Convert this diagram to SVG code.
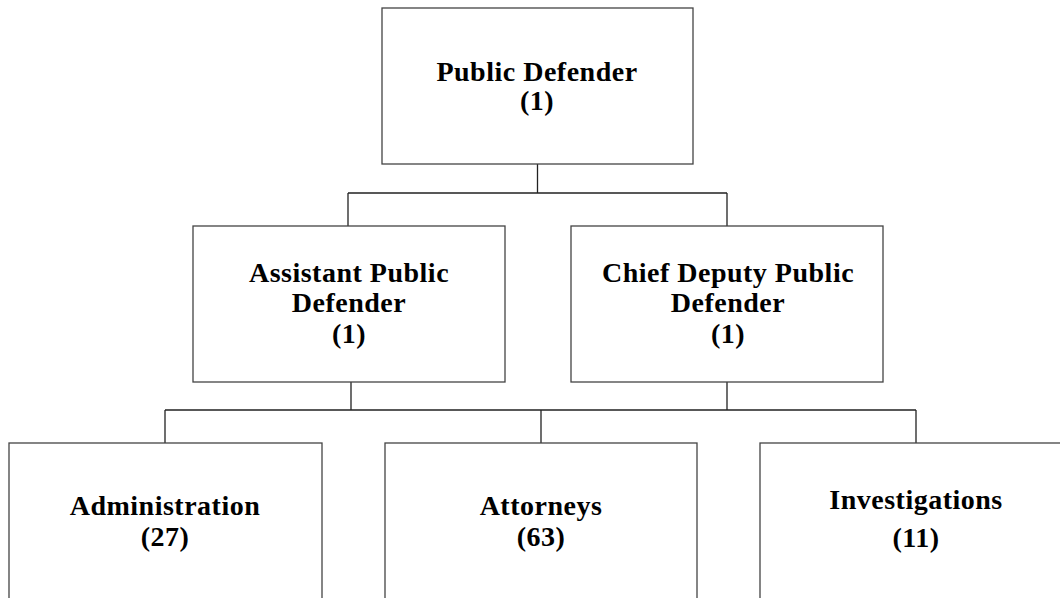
<svg xmlns="http://www.w3.org/2000/svg" width="1060" height="598" viewBox="0 0 1060 598">
<style>
.box{fill:#fff;stroke:#444;stroke-width:1.3}
.t{font-family:"Liberation Serif","Times New Roman",serif;font-weight:bold;font-size:28px;letter-spacing:0.5px;fill:#000;text-anchor:middle}
.c{stroke:#222;stroke-width:1.3;fill:none}
</style>
<rect width="1060" height="598" fill="#fff"/>
<g id="connectors">
<path class="c" d="M537.5 164V193M348 193H727M348 193V226M727 193V226"/>
<path class="c" d="M351 382V410M727 382V410M165 410H916M165 410V443M541 410V443M916 410V443"/>
</g>
<g id="public-defender">
<rect class="box" x="382" y="8" width="311" height="156"/>
<text class="t" x="537" y="81">Public Defender</text>
<text class="t" x="537" y="110">(1)</text>
</g>
<g id="assistant-public-defender">
<rect class="box" x="193" y="226" width="312" height="156"/>
<text class="t" x="349" y="282">Assistant Public</text>
<text class="t" x="349" y="312">Defender</text>
<text class="t" x="349" y="343">(1)</text>
</g>
<g id="chief-deputy-public-defender">
<rect class="box" x="571" y="226" width="312" height="156"/>
<text class="t" x="728" y="282">Chief Deputy Public</text>
<text class="t" x="728" y="312">Defender</text>
<text class="t" x="728" y="343">(1)</text>
</g>
<g id="administration">
<rect class="box" x="9" y="443" width="313" height="200"/>
<text class="t" x="165" y="515">Administration</text>
<text class="t" x="165" y="546">(27)</text>
</g>
<g id="attorneys">
<rect class="box" x="385" y="443" width="312" height="200"/>
<text class="t" x="541" y="515">Attorneys</text>
<text class="t" x="541" y="546">(63)</text>
</g>
<g id="investigations">
<rect class="box" x="760" y="443" width="312" height="200"/>
<text class="t" x="916" y="509">Investigations</text>
<text class="t" x="916" y="547">(11)</text>
</g>
</svg>
